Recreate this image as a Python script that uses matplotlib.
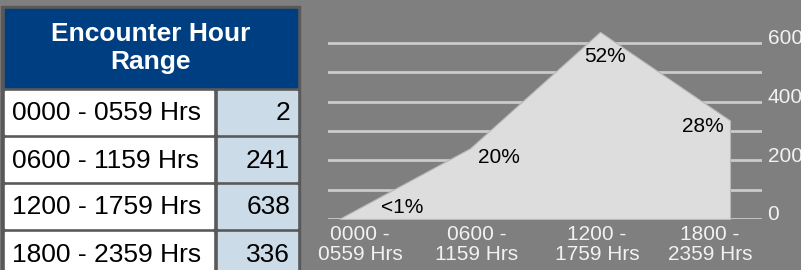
import matplotlib
matplotlib.use("Agg")
from matplotlib import pyplot as plt
from matplotlib.patches import Rectangle
from matplotlib.transforms import ScaledTranslation
import numpy as np

# data
hour_ranges = ["0000 - 0559 Hrs", "0600 - 1159 Hrs", "1200 - 1759 Hrs", "1800 - 2359 Hrs"]
tick_labels = ["0000 -\n0559 Hrs", "0600 -\n1159 Hrs", "1200 -\n1759 Hrs", "1800 -\n2359 Hrs"]
encounters = [2, 241, 638, 336]
pct_labels = ["<1%", "20%", "52%", "28%"]

plt.rcParams['font.family'] = ['Liberation Sans', 'DejaVu Sans']

BG = '#7f7f7f'
FRAME = '#595959'
BLUE = '#003e82'
LIGHT_BLUE = '#ccdbe8'
GRID = '#cbcbcb'
AREA = '#dddddd'
LIGHT_TEXT = '#f2f2f2'

W, H = 801, 270
fig = plt.figure(figsize=(W / 100, H / 100), dpi=100, facecolor=BG)

# ---- table on the left, drawn in pixel coordinates ----
tab = fig.add_axes([0, 0, 1, 1])
tab.set_xlim(0, W)
tab.set_ylim(H, 0)
tab.axis('off')

tab.add_patch(Rectangle((1, 6), 299, 270, color=FRAME))
tab.add_patch(Rectangle((5, 9), 292, 78, color=BLUE))
tab.text(151, 48, "Encounter Hour\nRange", color='white', fontsize=19,
         fontweight='bold', ha='center', va='center', linespacing=1.2)

row_top, row_pitch, row_h = 91, 47, 43
for i, (name, n) in enumerate(zip(hour_ranges, encounters)):
    y = row_top + i * row_pitch
    tab.add_patch(Rectangle((5, y), 208, row_h, color='white'))
    tab.add_patch(Rectangle((218, y), 79, row_h, color=LIGHT_BLUE))
    tab.text(12, y + row_h / 2 + 1, name, fontsize=19, ha='left', va='center')
    tab.text(290, y + row_h / 2 + 1, str(n), fontsize=19, ha='right', va='center')

# ---- area chart on the right ----
x = np.arange(len(encounters))
px_per_unit = 130
x_left = -12 / px_per_unit
x_right = 3 + 32 / px_per_unit
y_max = 660
ax_left, ax_right, ax_bottom = 328, 762, 219
ax_h = y_max * (176 / 600)

ax = fig.add_axes([ax_left / W, (H - ax_bottom) / H,
                   (ax_right - ax_left) / W, ax_h / H])
ax.set_facecolor('none')
ax.set_xlim(x_left, x_right)
ax.set_ylim(0, y_max)
for s in ax.spines.values():
    s.set_visible(False)

for g in range(0, 700, 100):
    ax.axhline(g, color=GRID, lw=2, zorder=1)

ax.fill_between(x, encounters, color=AREA, edgecolor='#b8b8b8', lw=0.8, zorder=2)

label_offsets = [(45, 8), (21, -6.5), (3.6, -18), (-19.4, -4.3)]
for xi, v, lab, off in zip(x, encounters, pct_labels, label_offsets):
    ax.annotate(lab, (xi, v), xytext=off, textcoords='offset points',
                ha='center', va='center', fontsize=15, color='black', zorder=3)

tick_shift = [0.154, 0.054, -0.023, -0.154]
ax.set_xticks(x + np.array(tick_shift), tick_labels)
ax.tick_params(axis='x', length=0, pad=4.5, labelsize=15, labelcolor=LIGHT_TEXT)
for t in ax.get_xticklabels():
    t.set_linespacing(1.05)

ax.yaxis.tick_right()
ax.set_yticks([0, 200, 400, 600])
ax.tick_params(axis='y', length=0, pad=4, labelsize=15, labelcolor=LIGHT_TEXT)
for t in ax.get_yticklabels():
    t.set_transform(t.get_transform() + ScaledTranslation(0, 6 / 100, fig.dpi_scale_trans))

fig.savefig("out.png", dpi=100, facecolor=BG)
